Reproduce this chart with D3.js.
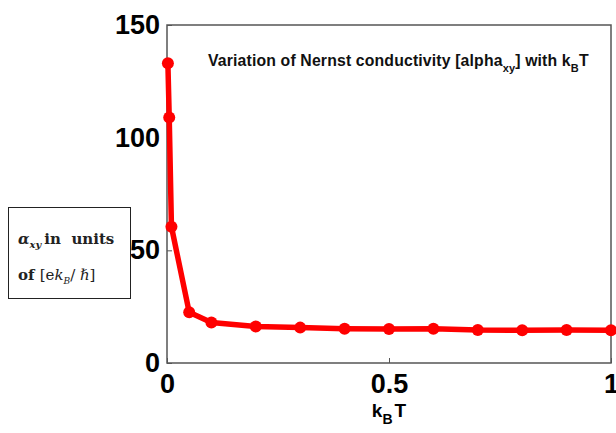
<!DOCTYPE html>
<html>
<head>
<meta charset="utf-8">
<script src="https://cdn.jsdelivr.net/npm/d3@7"></script>
<style>
  body { margin: 0; background: #fff; }
  text { font-family: "Liberation Sans", Arial, sans-serif; }
</style>
</head>
<body>
<svg id="chart"></svg>
<script>
// Width and height of svg
var width = 616;
var height = 433;

// kB*T values and alpha_xy
var kT = [0.002, 0.005, 0.01, 0.05, 0.1, 0.2, 0.3, 0.4, 0.5, 0.6, 0.7, 0.8, 0.9, 1.0];
var alpha = [133, 109, 60.5, 22.5, 18, 16.2, 15.7, 15.2, 15.1, 15.2, 14.6, 14.5, 14.6, 14.5];
var xTicks = [0, 0.5, 1];
var yTicks = [0, 50, 100, 150];

var margin = {left: 167, right: 5, top: 25, bottom: 70};

var svg = d3.select("#chart")
            .attr("width", width)
            .attr("height", height);

var x = d3.scaleLinear()
          .domain([0, 1])
          .range([margin.left, width - margin.right]);

var y = d3.scaleLinear()
          .domain([0, 150])
          .range([height - margin.bottom, margin.top]);

var axisColor = "#555";

// frame
svg.append("rect")
  .attr("x", x(0))
  .attr("y", y(150))
  .attr("width", x(1) - x(0))
  .attr("height", y(0) - y(150))
  .attr("fill", "none")
  .attr("stroke", axisColor)
  .attr("stroke-width", 1.5);

// axes (inward ticks, big bold labels)
var xAxis = svg.append("g")
  .attr("transform", "translate(0," + y(0) + ")")
  .call(d3.axisBottom(x).tickValues(xTicks).tickSize(-5).tickPadding(11)
        .tickFormat(function(d) { return d === 0.5 ? "0.5" : d3.format("d")(d); }));

var yAxis = svg.append("g")
  .attr("transform", "translate(" + x(0) + ",0)")
  .call(d3.axisLeft(y).tickValues(yTicks).tickSize(-5).tickPadding(7));

[xAxis, yAxis].forEach(function(a) {
  a.select(".domain").remove();
  a.selectAll(".tick line").attr("stroke", axisColor);
  a.selectAll(".tick text")
    .attr("fill", "#000")
    .style("font-size", "27px")
    .style("font-weight", "bold")
    .style("font-family", "'Liberation Sans', Arial, sans-serif");
});

// x label
var xl = svg.append("text")
  .attr("x", x(0.5))
  .attr("y", 417)
  .attr("text-anchor", "middle")
  .style("font-size", "19px")
  .style("font-weight", "bold");
xl.append("tspan").text("k");
xl.append("tspan").attr("dy", 7).style("font-size", "14px").text("B");
xl.append("tspan").attr("dy", -7).attr("dx", 2).text("T");

// title inside plot
var t = svg.append("text")
  .attr("x", 208)
  .attr("y", 66)
  .style("font-size", "15.8px")
  .style("font-weight", "bold")
  .style("letter-spacing", "0.15px")
  .attr("fill", "#111");
t.append("tspan").text("Variation of Nernst conductivity [alpha");
t.append("tspan").attr("dy", 6).style("font-size", "11px").text("xy");
t.append("tspan").attr("dy", -6).text("] with k");
t.append("tspan").attr("dy", 6).style("font-size", "11px").text("B");
t.append("tspan").attr("dy", -6).text("T");

// line + markers
var line = d3.line()
  .x(function(d, i) { return x(kT[i]); })
  .y(function(d) { return y(d); });

svg.append("path")
  .datum(alpha)
  .attr("d", line)
  .attr("fill", "none")
  .attr("stroke", "#ff0000")
  .attr("stroke-width", 5.5)
  .attr("stroke-linejoin", "round");

svg.selectAll("circle.pt")
  .data(alpha)
  .enter()
  .append("circle")
  .attr("class", "pt")
  .attr("cx", function(d, i) { return x(kT[i]); })
  .attr("cy", function(d) { return y(d); })
  .attr("r", 6)
  .attr("fill", "#ff0000");

// unit box on the left
svg.append("rect")
  .attr("x", 8.5)
  .attr("y", 207.5)
  .attr("width", 122)
  .attr("height", 91)
  .attr("fill", "#fff")
  .attr("stroke", "#222")
  .attr("stroke-width", 1);

var serif = "'DejaVu Serif', 'Liberation Serif', serif";
var l1 = svg.append("text")
  .attr("x", 18)
  .attr("y", 244)
  .style("font-family", serif)
  .style("font-size", "15px")
  .style("font-weight", "bold")
  .style("white-space", "pre")
  .attr("fill", "#222");
l1.append("tspan").style("font-style", "italic").text("\u03b1");
l1.append("tspan").attr("dy", 4).style("font-size", "10px").style("font-style", "italic").text("xy");
l1.append("tspan").attr("dy", -4).attr("dx", 3).text("in  units");

var l2 = svg.append("text")
  .attr("x", 18)
  .attr("y", 280)
  .style("font-family", serif)
  .style("font-size", "15px")
  .style("white-space", "pre")
  .attr("fill", "#222");
l2.append("tspan").style("font-weight", "bold").text("of ");
l2.append("tspan").text("[e");
l2.append("tspan").style("font-style", "italic").text("k");
l2.append("tspan").attr("dy", 4).style("font-size", "9px").style("font-style", "italic").text("B");
l2.append("tspan").attr("dy", -4).text("/ \u210f]");
</script>
</body>
</html>
